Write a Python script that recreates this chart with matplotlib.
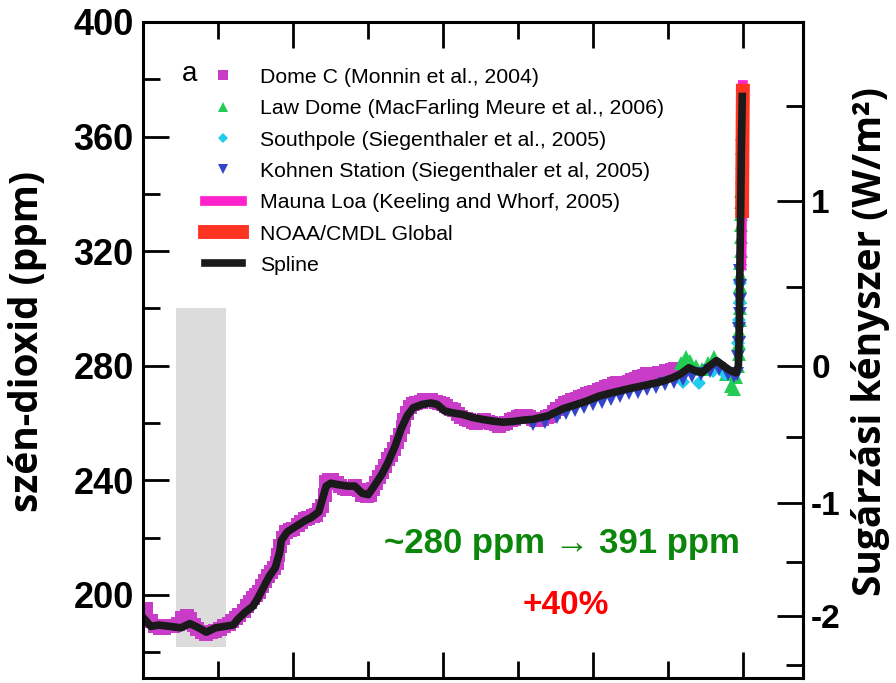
import numpy as np
import matplotlib
matplotlib.use('Agg')
import matplotlib.pyplot as plt
from matplotlib.ticker import MultipleLocator, FixedLocator

plt.rcParams['axes.unicode_minus'] = False

# ages in kyr before 2005, CO2 in ppm
spline_age = [20.0, 19.75, 19.5, 19.1, 18.75, 18.45, 18.15, 17.9, 17.6, 17.3, 17.0, 16.85,
              16.6, 16.35, 16.2, 16.0, 15.8, 15.6, 15.45, 15.4, 15.2, 14.9, 14.6, 14.4,
              14.15, 13.9, 13.75, 13.5, 13.2, 12.95, 12.7, 12.5, 12.3, 12.05, 11.85, 11.6,
              11.4, 11.2, 11.0, 10.7, 10.4, 10.2, 9.95, 9.7, 9.35, 9.0, 8.7, 8.35, 8.0,
              7.7, 7.35, 7.0, 6.5, 6.0, 5.7, 5.25, 4.8, 4.4, 3.8, 3.25, 2.7, 2.35, 2.1,
              1.8, 1.6, 1.36, 1.13, 0.88, 0.65, 0.45, 0.22, 0.15, 0.12, 0.1, 0.07, 0.05, 0.02]
spline_co2 = [192, 189, 189.5, 189, 188.5, 190, 188.5, 187, 188.5, 189, 189.5, 191.5,
              194, 196, 198.5, 202.5, 206.5, 209.5, 215, 219, 222, 224, 226, 227,
              229, 238, 239, 238.5, 238, 238, 235.5, 235, 238, 242, 246, 252,
              258, 262.5, 265.3, 266.5, 267, 266.5, 264.2, 263.6, 263, 261.9, 261.3, 260.7, 260.3,
              260.5, 261, 261.3, 262.5, 265, 266, 267.5, 269.4, 270.5, 272, 273.2, 274.5, 275.8, 277,
              279.3, 278.3, 277.6, 279.8, 281.8, 280, 278.5, 277.5, 280, 292, 313, 337, 355, 374]

domec_age = [19.9, 19.75, 19.6, 19.45, 19.3, 19.15, 19.0, 18.85, 18.7, 18.55, 18.45, 18.3,
             18.2, 18.05, 17.9, 17.75, 17.6, 17.45, 17.3, 17.15, 17.05, 16.9, 16.8, 16.65,
             16.55, 16.45, 16.35, 16.25, 16.15, 16.05, 15.95, 15.85, 15.75, 15.65, 15.55,
             15.5, 15.45, 15.35, 15.25, 15.1, 15.0, 14.85, 14.75, 14.6, 14.5, 14.35,
             14.25, 14.15, 14.05, 13.95, 13.9, 13.8, 13.7, 13.55, 13.45, 13.3, 13.2, 13.05,
             12.95, 12.8, 12.7, 12.55, 12.45, 12.35, 12.25, 12.15, 12.05, 11.95,
             11.85, 11.75, 11.65, 11.55, 11.45, 11.35, 11.3, 11.2, 11.1, 11.0, 10.9, 10.75,
             10.65, 10.5, 10.4, 10.25, 10.15, 10.0, 9.9, 9.75, 9.65, 9.5, 9.4,
             9.25, 9.15, 9.0, 8.9, 8.75, 8.65, 8.5, 8.4, 8.25, 8.15, 8.0, 7.9, 7.75, 7.65,
             7.5, 7.4, 7.25, 7.15, 7.0, 6.9, 6.8, 6.7, 6.55, 6.45, 6.3, 6.2, 6.05, 5.95,
             5.8, 5.7, 5.55, 5.45, 5.3, 5.2, 5.05, 4.95, 4.8, 4.7, 4.55, 4.45, 4.3, 4.2,
             4.05, 3.95, 3.8, 3.7, 3.55, 3.45, 3.3, 3.2, 3.05, 2.95, 2.8, 2.7, 2.55, 2.45,
             2.35, 2.25]
domec_co2 = [195, 191, 189, 188.5, 188.5, 189, 189, 190, 192, 192.5, 191.5, 189.5,
             188, 187, 186.5, 187, 187.5, 188, 189, 190, 191, 192, 193, 194.5,
             196, 197.5, 199, 200, 201, 203, 205, 206.5, 208, 209.5, 211,
             214, 217, 220, 222, 222.5, 223, 224.5, 225.5, 226.5, 227, 227.5,
             228, 229.5, 231, 235, 239.5, 240, 240, 239, 238, 237.5, 237, 237.5,
             238, 236.5, 235, 234.5, 235, 237, 239, 241, 243, 245,
             247.5, 249, 251, 253.5, 256, 258.5, 261, 263.5, 265.5, 266.5, 267, 267.5,
             268, 268, 268, 267.5, 267, 266.5, 266, 265, 264.5, 263, 262,
             261.5, 261, 260.5, 260, 260.5, 261, 260.5, 260, 259.5, 259, 259.5, 260, 261, 261.5,
             262, 262.5, 262.5, 262, 261.5, 261, 261, 261.5, 262, 262.5, 264, 265, 266, 267,
             267.5, 268, 268.5, 269, 269.5, 270, 270.5, 271, 271.5, 272, 272.5, 273, 273.5, 274,
             274, 274, 274.5, 275, 275.5, 276, 276.5, 277, 277, 277, 277.5, 277.5, 278, 278,
             278.5, 279]

lawdome_age = [2.05, 1.9, 1.75, 1.55, 1.35, 1.15, 0.95, 0.75, 0.55, 0.4, 0.3, 0.22, 0.17,
               0.14, 0.13, 0.12, 0.11, 0.1, 0.095, 0.09, 0.085, 0.08, 0.075, 0.07, 0.065,
               0.06, 0.055, 0.05, 0.045, 0.04, 0.035, 0.03]
lawdome_co2 = [281, 283, 281.5, 280, 279, 281, 283, 280, 277, 273, 272, 276, 280,
               284, 288, 292, 296, 300, 304, 308, 312, 316, 320, 325, 329,
               333, 337, 341, 346, 351, 356, 361]

southpole_age = [2.0, 1.45, 1.0, 0.6, 0.15, 0.12, 0.1, 0.08]
southpole_co2 = [274.5, 274, 278, 277, 288, 296, 302, 309]

kohnen_age = [7.0, 6.6, 6.2, 5.9, 5.6, 5.3, 5.0, 4.7, 4.4, 4.1, 3.8, 3.5, 3.2, 2.9, 2.6,
              2.3, 2.0, 1.7, 1.4, 1.1, 0.8, 0.5, 0.3, 0.2, 0.15, 0.13, 0.12, 0.11, 0.1,
              0.09, 0.08]
kohnen_co2 = [259.5, 260.5, 262, 263.5, 264.5, 265.5, 266.5, 267.5, 268.5, 269.5, 270.5, 271,
              272, 272.5, 273.5, 274.5, 275.5, 276.5, 277, 278, 279, 277, 276.5, 277,
              283, 288, 293, 298, 303, 308, 313]

maunaloa_age = [0.047, 0.035, 0.025, 0.015, 0.005, 0.0]
maunaloa_co2 = [315, 325, 338, 353, 370, 378]

noaa_age = [0.025, 0.02, 0.015, 0.01, 0.005, 0.0]
noaa_co2 = [334, 345, 353, 361, 369, 376]

# grey band: range of natural variability (ppm) drawn over these ages
band_age = [18.9, 17.25]
band_co2 = [182, 300]

C0 = 280.0

fig = plt.figure(figsize=(8.96, 6.83), dpi=100)
ax = fig.add_axes([0.16, 0.0073, 0.736, 0.9605])

ax.fill_between(band_age, band_co2[0], band_co2[1], color='#dcdcdc', lw=0, zorder=0)

ax.plot(domec_age, domec_co2, 's', color='#c83cc8', ms=10, mew=0,
        label='Dome C (Monnin et al., 2004)')
ax.plot(lawdome_age, lawdome_co2, '^', color='#22cc55', ms=10, mew=0,
        label='Law Dome (MacFarling Meure et al., 2006)')
ax.plot(southpole_age, southpole_co2, 'D', color='#22ccee', ms=7, mew=0,
        label='Southpole (Siegenthaler et al., 2005)')
ax.plot(kohnen_age, kohnen_co2, 'v', color='#3344cc', ms=10, mew=0,
        label='Kohnen Station (Siegenthaler et al, 2005)')
ax.plot(maunaloa_age, maunaloa_co2, '-', color='#ff22cc', lw=7,
        label='Mauna Loa (Keeling and Whorf, 2005)')
ax.plot(noaa_age, noaa_co2, '-', color='#ff3322', lw=10,
        label='NOAA/CMDL Global')
ax.plot(spline_age, spline_co2, '-', color='#1a1a1a', lw=5.5, label='Spline')

ax.set_xlim(20, -2)
ax.set_ylim(171, 400)

ax.xaxis.set_major_locator(MultipleLocator(5))
ax.xaxis.set_minor_locator(MultipleLocator(2.5))
ax.yaxis.set_major_locator(MultipleLocator(40))
ax.yaxis.set_minor_locator(MultipleLocator(20))

ax.tick_params(which='both', direction='in', top=True, right=False, width=2)
ax.tick_params(which='major', length=19)
ax.tick_params(which='minor', length=12)
ax.tick_params(axis='x', labelbottom=False)
ax.tick_params(axis='y', pad=7)
for s in ax.spines.values():
    s.set_linewidth(2.2)
for t in ax.get_yticklabels():
    t.set_fontfamily('Liberation Sans')
    t.set_fontweight('bold')
    t.set_fontsize(26)


def forcing(c):
    return 5.35 * np.log(np.clip(c, 1e-3, None) / C0)


def conc(f):
    return C0 * np.exp(np.asarray(f) / 5.35)


sec = ax.secondary_yaxis('right', functions=(forcing, conc))
sec.set_yticks([-2, -1, 0, 1])
sec.yaxis.set_minor_locator(FixedLocator([-2.5, -1.5, -0.5, 0.5, 1.5]))
sec.tick_params(which='both', direction='in', width=2, pad=6)
sec.tick_params(which='major', length=19)
sec.tick_params(which='minor', length=12)
sec.spines['right'].set_linewidth(2.2)
for t in sec.get_yticklabels():
    t.set_fontfamily('Liberation Sans')
    t.set_fontweight('bold')
    t.set_fontsize(24)

leg = ax.legend(loc='upper left', bbox_to_anchor=(0.093, 0.93), frameon=False,
                prop={'family': 'Liberation Sans', 'size': 15.3},
                handlelength=1.75, handletextpad=0.85, labelspacing=0.58,
                borderpad=0, borderaxespad=0, numpoints=1, markerscale=0.75)

ax.text(0.058, 0.92, 'a', transform=ax.transAxes, fontsize=20,
        family='Liberation Sans', va='center', ha='left')

ax.text(0.635, 0.205, '~280 ppm \u2192 391 ppm', transform=ax.transAxes,
        fontsize=25, fontweight='bold', color='#0a870a',
        family=['Liberation Sans', 'DejaVu Sans'], ha='center', va='center')
ax.text(0.64, 0.11, '+40%', transform=ax.transAxes, fontsize=24,
        fontweight='bold', color='#ff0000', family='Liberation Sans',
        ha='center', va='center')

fig.text(0.031, 0.5, 'szén-dioxid (ppm)', rotation=90, ha='center', va='center',
         fontsize=28, fontweight='bold', family='Open Sans')
fig.text(0.971, 0.5, 'Sugárzási kényszer (W/m²)', rotation=90, ha='center',
         va='center', fontsize=28, fontweight='bold', family='Open Sans')

fig.savefig('out.png', dpi=100)
